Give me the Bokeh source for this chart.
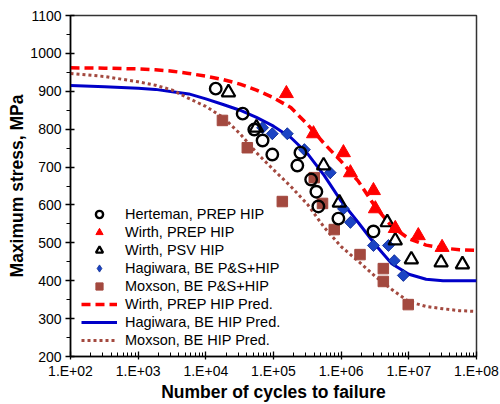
from bokeh.plotting import figure
from bokeh.models import Range1d, FixedTicker, Legend, LegendItem
from bokeh.embed import file_html
from bokeh.resources import INLINE
import math

# ---- data: fatigue life (cycles) vs maximum stress (MPa) ----
herteman_n = [1.4e4, 3.5e4, 5.2e4, 6.9e4, 9.6e4, 2.5e5, 2.25e5, 3.6e5, 4.3e5, 4.6e5, 9.1e5, 3.0e6]
herteman_s = [907, 841, 799, 770, 733, 738, 704, 667, 635, 596, 564, 530]

wirth_prep_n = [1.55e5, 3.9e5, 1.08e6, 1.37e6, 3.0e6, 3.2e6, 6.3e6, 1.38e7, 3.1e7]
wirth_prep_s = [894, 788, 738, 685, 638, 590, 538, 519, 488]

wirth_psv_n = [2.16e4, 5.6e4, 5.5e5, 9.4e5, 4.8e6, 6.3e6, 1.09e7, 3.0e7, 6.2e7]
wirth_psv_s = [897, 804, 704, 606, 554, 506, 456, 448, 443]

hagiwara_n = [6.9e4, 9.6e4, 1.6e5, 2.86e5, 6.9e5, 1.08e6, 1.37e6, 3.0e6, 5.0e6, 6.1e6, 8.3e6]
hagiwara_s = [804, 788, 788, 746, 685, 590, 554, 493, 493, 453, 414]

moxson_n = [1.76e4, 4.1e4, 1.35e5, 4.0e5, 5.3e5, 7.9e5, 1.9e6, 4.2e6, 4.2e6, 9.8e6]
moxson_s = [823, 751, 609, 672, 604, 535, 469, 432, 398, 337]

# predicted S-N curves
pred_n = [1e2, 3.2e2, 1e3, 1.8e3, 3.2e3, 5.6e3, 1e4, 1.8e4, 3.2e4, 5.6e4,
          1e5, 1.8e5, 3.2e5, 5.6e5, 1e6, 1.8e6, 3.2e6, 5.6e6, 1e7, 1.8e7,
          3.2e7, 5.6e7, 1e8]
wirth_pred_s = [962, 961, 959, 957, 953, 947, 940, 931, 919, 903,
                883, 857, 812, 762, 715, 662, 595, 543, 511, 494,
                486, 482, 480]
hagiwara_pred_s = [915, 912, 908, 905, 899, 893, 880, 865, 850, 831,
                   808, 778, 735, 678, 610, 553, 495, 445, 417, 404,
                   400, 400, 400]
moxson_pred_s = [947, 939, 925, 916, 903, 881, 860, 831, 788, 738,
                 693, 649, 601, 541, 490, 451, 411, 377, 345, 332,
                 326, 321, 319]

x_ticks = [1e2, 1e3, 1e4, 1e5, 1e6, 1e7, 1e8]
x_tick_labels = ["1.E+02", "1.E+03", "1.E+04", "1.E+05", "1.E+06", "1.E+07", "1.E+08"]
y_ticks = [200, 300, 400, 500, 600, 700, 800, 900, 1000, 1100]

FONT = "Liberation Sans"
RED = "#FF0000"
BLUE = "#0000C8"
DIAMOND = "#1C44C4"
DIAMOND_EDGE = "#0A2A90"
BROWN = "#A3493F"

p = figure(width=500, height=404, x_axis_type="log",
           x_range=Range1d(1e2, 1e8), y_range=Range1d(200, 1100),
           output_backend="svg", toolbar_location=None,
           min_border_left=70, min_border_right=24,
           min_border_top=15, min_border_bottom=48)

p.xgrid.visible = False
p.ygrid.visible = False
p.outline_line_color = "#333333"
p.outline_line_width = 1.5
p.background_fill_color = "white"
p.border_fill_color = "white"

# x axis (log cycles)
xa = p.xaxis[0]
x_minor = [k * t for t in x_ticks[:-1] for k in range(2, 10)]
xa.ticker = FixedTicker(ticks=x_ticks, minor_ticks=x_minor)
xa.major_label_overrides = {t: lab for t, lab in zip(x_ticks, x_tick_labels)}
xa.axis_line_color = "black"
xa.axis_line_width = 1.5
xa.major_tick_line_color = "black"
xa.major_tick_line_width = 1.3
xa.major_tick_in = 5
xa.major_tick_out = 3
xa.minor_tick_line_color = "black"
xa.minor_tick_line_width = 1.0
xa.minor_tick_in = 4
xa.minor_tick_out = 0
xa.major_label_text_font = FONT
xa.major_label_text_font_size = "14px"
xa.major_label_text_color = "black"
xa.major_label_standoff = 3
xa.axis_label = "Number of cycles to failure"
xa.axis_label_text_font = FONT
xa.axis_label_text_font_style = "bold"
xa.axis_label_text_font_size = "17.5px"
xa.axis_label_text_color = "black"
xa.axis_label_standoff = 0

# y axis (stress)
ya = p.yaxis[0]
y_minor = [t + 50 for t in y_ticks[:-1]]
ya.ticker = FixedTicker(ticks=y_ticks, minor_ticks=y_minor)
ya.axis_line_color = "black"
ya.axis_line_width = 1.5
ya.major_tick_line_color = "black"
ya.major_tick_line_width = 1.3
ya.major_tick_in = 4
ya.major_tick_out = 5
ya.minor_tick_line_color = "black"
ya.minor_tick_line_width = 1.0
ya.minor_tick_in = 0
ya.minor_tick_out = 4
ya.major_label_text_font = FONT
ya.major_label_text_font_size = "14px"
ya.major_label_text_color = "black"
ya.major_label_standoff = 4
ya.axis_label = "Maximum stress, MPa"
ya.axis_label_text_font = FONT
ya.axis_label_text_font_style = "bold"
ya.axis_label_text_font_size = "17.5px"
ya.axis_label_text_color = "black"
ya.axis_label_standoff = 0

# prediction curves
r_wp = p.line(pred_n, wirth_pred_s, line_color=RED, line_width=3.5, line_dash="9 5")
r_hp = p.line(pred_n, hagiwara_pred_s, line_color=BLUE, line_width=3)
r_mp = p.line(pred_n, moxson_pred_s, line_color=BROWN, line_width=3, line_dash="3 3")

# measured data
r_mx = p.scatter(moxson_n, moxson_s, marker="square", size=10.5,
                 fill_color=BROWN, line_color=BROWN)
# diamond key for the legend (legend markers are drawn unrotated); it sits
# fully inside the rotated squares drawn on top of it
r_hg_key = p.scatter(hagiwara_n, hagiwara_s, marker="diamond", size=11,
                     fill_color=DIAMOND, line_color=DIAMOND_EDGE, line_width=0.8)
r_hg = p.scatter(hagiwara_n, hagiwara_s, marker="square", angle=math.pi / 4, size=8.5,
                 fill_color=DIAMOND, line_color=DIAMOND_EDGE, line_width=0.8)
r_wpsv = p.scatter(wirth_psv_n, wirth_psv_s, marker="triangle", size=13.5,
                   fill_color=None, line_color="black", line_width=2.2)
r_wprep = p.scatter(wirth_prep_n, wirth_prep_s, marker="triangle", size=14,
                    fill_color=RED, line_color=RED)
r_ht = p.scatter(herteman_n, herteman_s, marker="circle", size=11.5,
                 fill_color=None, line_color="black", line_width=2.4)

legend = Legend(items=[
    LegendItem(label="Herteman, PREP HIP", renderers=[r_ht]),
    LegendItem(label="Wirth, PREP HIP", renderers=[r_wprep]),
    LegendItem(label="Wirth, PSV HIP", renderers=[r_wpsv]),
    LegendItem(label="Hagiwara, BE P&S+HIP", renderers=[r_hg_key]),
    LegendItem(label="Moxson, BE P&S+HIP", renderers=[r_mx]),
    LegendItem(label="Wirth, PREP HIP Pred.", renderers=[r_wp]),
    LegendItem(label="Hagiwara, BE HIP Pred.", renderers=[r_hp]),
    LegendItem(label="Moxson, BE HIP Pred.", renderers=[r_mp]),
], location=(11, 7))
legend.padding = 0
legend.margin = 0
legend.spacing = 0
legend.glyph_height = 18
legend.glyph_width = 36
legend.label_height = 18
legend.label_standoff = 8
legend.border_line_color = None
legend.background_fill_alpha = 0
legend.label_text_font = FONT
legend.label_text_font_size = "14.5px"
legend.label_text_color = "black"
p.add_layout(legend)

open("out.html", "w").write(file_html(p, INLINE))
